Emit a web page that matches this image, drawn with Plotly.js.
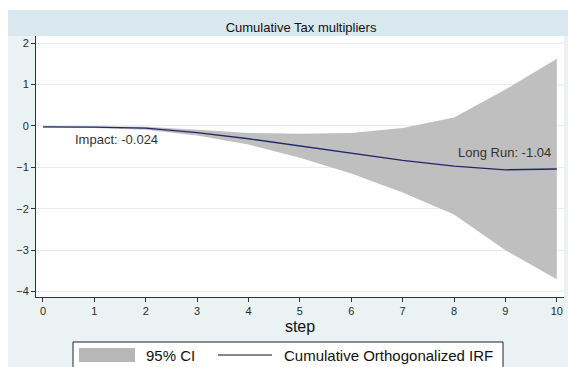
<!DOCTYPE html>
<html>
<head>
<meta charset="utf-8">
<script src="https://cdn.plot.ly/plotly-3.0.1.min.js"></script>
<style>
  html, body { margin: 0; padding: 0; background: #ffffff; }
  #chart { width: 568px; height: 367px; }
</style>
</head>
<body>
<div id="chart"></div>
<script>
// Cumulative orthogonalized impulse response of output to a tax shock
const steps = [0, 1, 2, 3, 4, 5, 6, 7, 8, 9, 10];
const cirf  = [-0.024, -0.03, -0.055, -0.16, -0.31, -0.48, -0.66, -0.83, -0.97, -1.06, -1.04];
const ciUpper = [-0.01, -0.012, -0.02, -0.09, -0.17, -0.19, -0.17, -0.05, 0.20, 0.88, 1.62];
const ciLower = [-0.038, -0.048, -0.09, -0.23, -0.45, -0.77, -1.15, -1.61, -2.14, -3.00, -3.70];
const yTicks = [-4, -3, -2, -1, 0, 1, 2];
const xTicks = [0, 1, 2, 3, 4, 5, 6, 7, 8, 9, 10];
const seriesNames = ['95% CI', 'Cumulative Orthogonalized IRF'];

const FONT = 'Liberation Sans, Arial, sans-serif';
const BAND = '#bfbfbf';
const LINE = '#22266a';
const W = 568, H = 367;
const M = { l: 36, r: 4, t: 36, b: 70, autoexpand: false };
const PW = W - M.l - M.r, PH = H - M.t - M.b;
// pixel -> paper helpers for the frame and key decorations
const px = x => (x - M.l) / PW;
const py = y => (H - M.b - y) / PH;

const traces = [
  {
    x: steps, y: ciLower, type: 'scatter', mode: 'lines',
    line: { width: 0, color: BAND }, showlegend: false, hoverinfo: 'skip'
  },
  {
    x: steps, y: ciUpper, type: 'scatter', mode: 'lines', name: seriesNames[0],
    fill: 'tonexty', fillcolor: BAND,
    line: { width: 0, color: BAND }
  },
  {
    x: steps, y: cirf, type: 'scatter', mode: 'lines',
    name: seriesNames[1],
    line: { width: 1.3, color: LINE }
  }
];

// key below the plot: boxed, with a wide filled swatch and a line sample
const keyShapes = [
  { type: 'rect', xref: 'paper', yref: 'paper', x0: px(73), x1: px(503), y0: py(375), y1: py(342),
    fillcolor: '#ffffff', line: { width: 1, color: '#222' } },
  { type: 'rect', xref: 'paper', yref: 'paper', x0: px(79), x1: px(135), y0: py(362), y1: py(348),
    fillcolor: '#b7b7b7', line: { width: 0 } },
  { type: 'line', xref: 'paper', yref: 'paper', x0: px(218), x1: px(272), y0: py(355), y1: py(355),
    line: { width: 1.2, color: '#111' } }
];
const keyLabels = [
  { x: px(144), y: py(355), xref: 'paper', yref: 'paper', xanchor: 'left', yanchor: 'middle',
    text: seriesNames[0], showarrow: false, font: { family: FONT, size: 15, color: '#111' } },
  { x: px(282), y: py(355), xref: 'paper', yref: 'paper', xanchor: 'left', yanchor: 'middle',
    text: seriesNames[1], showarrow: false, font: { family: FONT, size: 15, color: '#111' } }
];

const layout = {
  width: W, height: H,
  margin: M,
  paper_bgcolor: '#eaf2f3',
  plot_bgcolor: '#ffffff',
  font: { family: FONT, color: '#222' },
  showlegend: false,
  title: {
    text: 'Cumulative Tax multipliers',
    font: { family: FONT, size: 13, color: '#111' },
    x: 0.502, xref: 'paper', xanchor: 'center',
    y: 1 - 27 / H, yref: 'container', yanchor: 'middle'
  },
  xaxis: {
    range: [-0.136, 10.14],
    tickvals: xTicks,
    ticks: 'outside', ticklen: 4, tickcolor: '#333', tickwidth: 1,
    showline: true, linecolor: '#333', linewidth: 1,
    showgrid: false, zeroline: false,
    tickfont: { family: FONT, size: 11, color: '#2a2a2a' },
    title: { text: 'step', font: { family: FONT, size: 16, color: '#111' }, standoff: 4 }
  },
  yaxis: {
    range: [-4.13, 2.17],
    tickvals: yTicks,
    ticks: 'outside', ticklen: 4, tickcolor: '#333', tickwidth: 1,
    showline: true, linecolor: '#333', linewidth: 1,
    showgrid: true, gridcolor: '#e4edef', gridwidth: 1,
    zeroline: false,
    tickfont: { family: FONT, size: 11, color: '#2a2a2a' }
  },
  shapes: [
    // white outer strips on the left and top edges
    { type: 'rect', xref: 'paper', yref: 'paper', x0: px(0), x1: px(8), y0: py(H), y1: py(0),
      fillcolor: '#ffffff', line: { width: 0 }, layer: 'below' },
    { type: 'rect', xref: 'paper', yref: 'paper', x0: px(0), x1: px(W), y0: py(10), y1: py(0),
      fillcolor: '#ffffff', line: { width: 0 }, layer: 'below' },
    // title band
    { type: 'rect', xref: 'paper', yref: 'paper', x0: px(8), x1: px(W), y0: py(36), y1: py(10),
      fillcolor: '#d9e7ee', line: { width: 0 }, layer: 'below' }
  ].concat(keyShapes),
  annotations: [
    { x: 0.58, y: -0.34, xref: 'x', yref: 'y', xanchor: 'left', yanchor: 'middle',
      text: 'Impact: -0.024', showarrow: false,
      font: { family: FONT, size: 13, color: '#333' } },
    { x: 9.93, y: -0.65, xref: 'x', yref: 'y', xanchor: 'right', yanchor: 'middle',
      text: 'Long Run: -1.04', showarrow: false,
      font: { family: FONT, size: 13, color: '#333' } }
  ].concat(keyLabels)
};

Plotly.newPlot('chart', traces, layout, { displayModeBar: false, staticPlot: true });
</script>
</body>
</html>
